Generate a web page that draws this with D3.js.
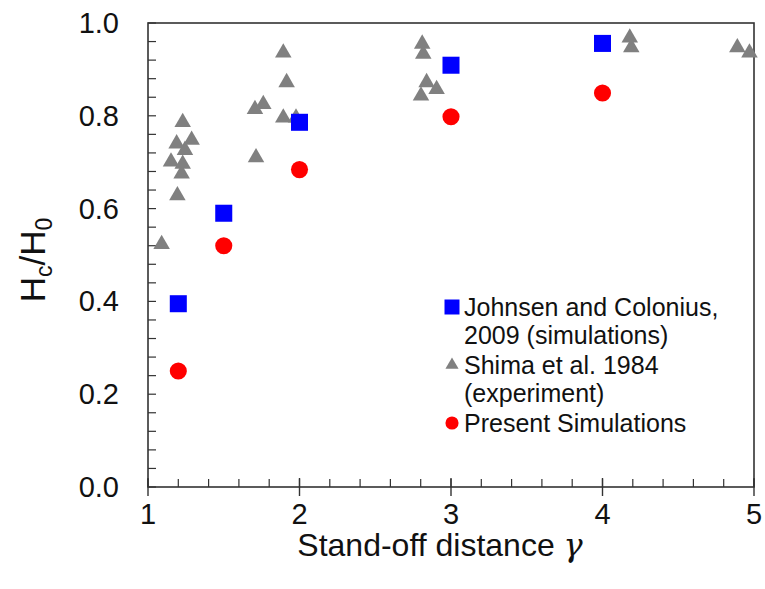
<!DOCTYPE html>
<html>
<head>
<meta charset="utf-8">
<script src="https://cdn.jsdelivr.net/npm/d3@7"></script>
<style>
  body { margin: 0; background: #fff; }
  text { font-family: "Liberation Sans", Arial, sans-serif; fill: #111; }
</style>
</head>
<body>
<div id="chart"></div>
<script>
// Johnsen and Colonius, 2009 (simulations)
const johnsenX = [1.2, 1.5, 2.0, 3.0, 4.0];
const johnsenY = [0.395, 0.59, 0.786, 0.909, 0.956];

// Shima et al. 1984 (experiment)
const shimaX = [1.09, 1.194, 1.222, 1.229, 1.152, 1.244, 1.189, 1.288, 1.229,
  1.713, 1.706, 1.761, 1.893, 1.977, 1.893, 1.915,
  2.802, 2.905, 2.839, 2.817, 2.81, 4.19, 4.18, 4.89, 4.97];
const shimaY = [0.523, 0.628, 0.675, 0.696, 0.701, 0.726, 0.740, 0.748, 0.786,
  0.710, 0.814, 0.825, 0.796, 0.796, 0.936, 0.872,
  0.843, 0.857, 0.872, 0.933, 0.955, 0.947, 0.968, 0.947, 0.936];

// Present Simulations
const presentX = [1.2, 1.5, 2.0, 3.0, 4.0];
const presentY = [0.25, 0.52, 0.684, 0.798, 0.849];

const xTicks = [1, 2, 3, 4, 5];
const yTicks = [0, 0.2, 0.4, 0.6, 0.8, 1.0];

const W = 765, H = 589;
const plot = { left: 148, right: 754, top: 23, bottom: 487 };

const svg = d3.select("#chart").append("svg")
  .attr("width", W).attr("height", H);

const x = d3.scaleLinear().domain([1, 5]).range([plot.left, plot.right]);
const y = d3.scaleLinear().domain([0, 1]).range([plot.bottom, plot.top]);

// frame
svg.append("rect")
  .attr("x", plot.left).attr("y", plot.top)
  .attr("width", plot.right - plot.left).attr("height", plot.bottom - plot.top)
  .attr("fill", "none").attr("stroke", "#333").attr("stroke-width", 1.6);

// x axis: major ticks cross the axis, minor ticks point inward
const xMinor = d3.range(1, 5.001, 0.2);
svg.append("g").selectAll("line").data(xMinor).enter().append("line")
  .attr("x1", d => x(d)).attr("x2", d => x(d))
  .attr("y1", plot.bottom).attr("y2", plot.bottom - 8)
  .attr("stroke", "#333").attr("stroke-width", 1.2);
svg.append("g").selectAll("line").data(xTicks).enter().append("line")
  .attr("x1", d => x(d)).attr("x2", d => x(d))
  .attr("y1", plot.bottom - 9).attr("y2", plot.bottom + 9)
  .attr("stroke", "#333").attr("stroke-width", 1.4);
svg.append("g").selectAll("text").data(xTicks).enter().append("text")
  .attr("x", d => x(d)).attr("y", plot.bottom + 37)
  .attr("text-anchor", "middle").attr("font-size", 29)
  .text(d => d);

// y axis: ticks point inward
const yMinor = d3.range(0, 1.0001, 0.04);
svg.append("g").selectAll("line").data(yMinor).enter().append("line")
  .attr("x1", plot.left).attr("x2", plot.left + 8)
  .attr("y1", d => y(d)).attr("y2", d => y(d))
  .attr("stroke", "#333").attr("stroke-width", 1.2);
svg.append("g").selectAll("text").data(yTicks).enter().append("text")
  .attr("x", plot.left - 29).attr("y", d => y(d) + 10)
  .attr("text-anchor", "end").attr("font-size", 29)
  .text(d => d.toFixed(1));

// axis titles
const xt = svg.append("text")
  .attr("x", 440).attr("y", 556)
  .attr("text-anchor", "middle").attr("font-size", 32);
xt.append("tspan").text("Stand-off distance ");
xt.append("tspan").attr("font-family", "'DejaVu Serif', serif")
  .attr("font-style", "italic").text("γ");

const yt = svg.append("text")
  .attr("transform", "translate(45,260) rotate(-90)")
  .attr("text-anchor", "middle").attr("font-size", 35);
yt.append("tspan").text("H");
yt.append("tspan").attr("font-size", 23).attr("dy", 7).text("c");
yt.append("tspan").attr("dy", -7).text("/H");
yt.append("tspan").attr("font-size", 23).attr("dy", 7).text("0");

// markers
const tri = d3.symbol().type(d3.symbolTriangle).size(118);
const sq = d3.symbol().type(d3.symbolSquare).size(290);
const circ = d3.symbol().type(d3.symbolCircle).size(230);

svg.append("g").selectAll("path").data(d3.zip(shimaX, shimaY)).enter().append("path")
  .attr("d", tri)
  .attr("transform", d => `translate(${x(d[0])},${y(d[1])})`)
  .attr("fill", "#808080");

svg.append("g").selectAll("path").data(d3.zip(johnsenX, johnsenY)).enter().append("path")
  .attr("d", sq)
  .attr("transform", d => `translate(${x(d[0])},${y(d[1])})`)
  .attr("fill", "#0000ff");

svg.append("g").selectAll("path").data(d3.zip(presentX, presentY)).enter().append("path")
  .attr("d", circ)
  .attr("transform", d => `translate(${x(d[0])},${y(d[1])})`)
  .attr("fill", "#ff0000");

// legend
const legend = [
  { sym: d3.symbol().type(d3.symbolSquare).size(225)(), color: "#0000ff", lines: ["Johnsen and Colonius,", "2009 (simulations)"], y: 307 },
  { sym: d3.symbol().type(d3.symbolTriangle).size(75)(), color: "#808080", lines: ["Shima et al. 1984", "(experiment)"], y: 365 },
  { sym: d3.symbol().type(d3.symbolCircle).size(135)(), color: "#ff0000", lines: ["Present Simulations"], y: 423 }
];
const lg = svg.append("g");
legend.forEach(l => {
  lg.append("path").attr("d", l.sym)
    .attr("transform", `translate(452,${l.y})`)
    .attr("fill", l.color);
  l.lines.forEach((t, i) => {
    lg.append("text")
      .attr("x", 464).attr("y", l.y + 9 + i * 28)
      .attr("font-size", 25)
      .text(t);
  });
});
</script>
</body>
</html>
